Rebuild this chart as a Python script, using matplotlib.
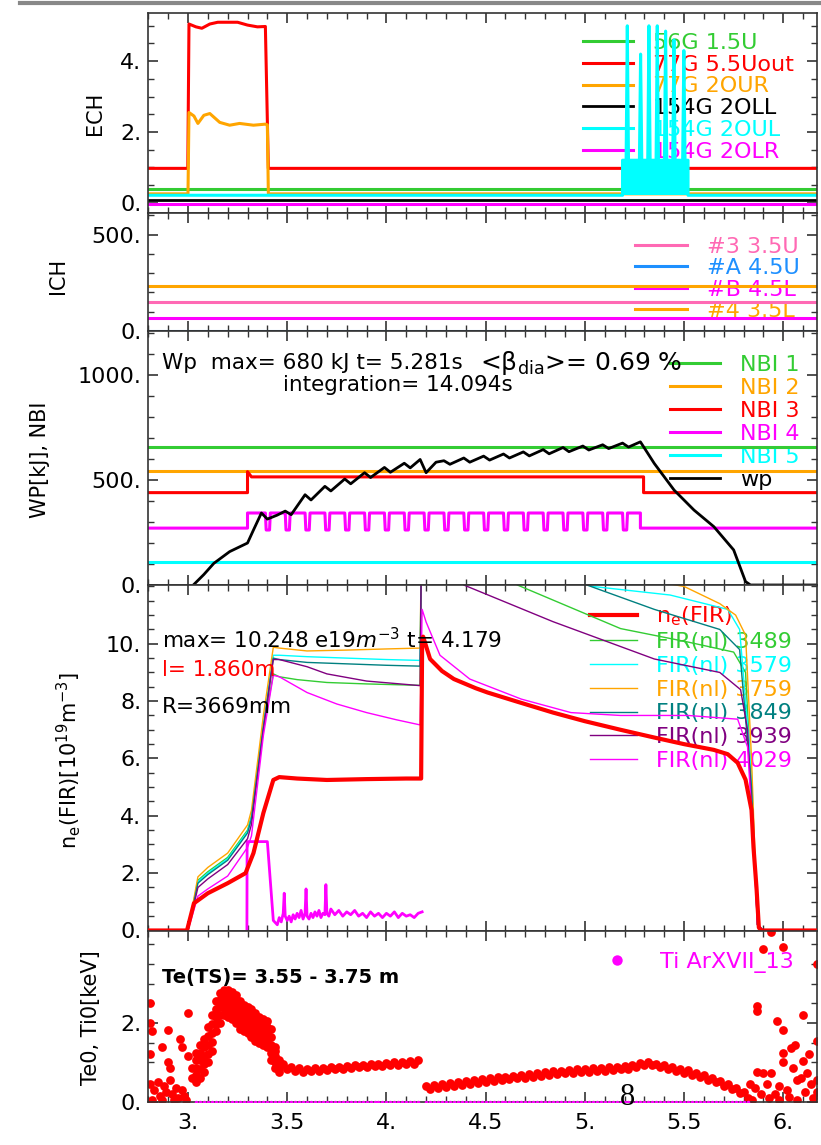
import numpy as np
import matplotlib
matplotlib.use("Agg")
import matplotlib.pyplot as plt
from matplotlib.ticker import MultipleLocator, FixedLocator, FuncFormatter
from matplotlib.lines import Line2D

plt.rcParams['font.family'] = ['DejaVu Sans']
plt.rcParams['mathtext.default'] = 'regular'

# ---------------- data ----------------
T_MIN, T_MAX = 2.8, 6.17

# ECH [MW]
ech_green_t = [2.8, 6.17]
ech_green_v = [0.40, 0.40]
ech_red_t = [2.8, 2.999, 3.005, 3.04, 3.07, 3.11, 3.15, 3.25, 3.30, 3.35, 3.39, 3.405, 6.17]
ech_red_v = [0.97, 0.97, 5.05, 4.97, 4.93, 5.05, 5.10, 5.10, 5.02, 4.97, 4.98, 0.97, 0.97]
ech_orange_t = [2.8, 3.0, 3.005, 3.03, 3.05, 3.08, 3.11, 3.16, 3.21, 3.26, 3.33, 3.39, 3.40, 3.405, 6.17]
ech_orange_v = [0.25, 0.25, 2.55, 2.45, 2.24, 2.47, 2.52, 2.27, 2.19, 2.24, 2.19, 2.22, 2.2, 0.25, 0.25]
ech_black_t = [2.8, 6.17]
ech_black_v = [0.07, 0.07]
ech_cyan_t = [2.8, 5.19, 5.19, 5.208, 5.214, 5.22, 5.275, 5.281, 5.287, 5.317, 5.323, 5.329,
              5.359, 5.365, 5.371, 5.401, 5.407, 5.413, 5.443, 5.449, 5.455, 5.493, 5.499, 5.505,
              5.52, 5.52, 6.17]
ech_cyan_v = [0.21, 0.21, 1.2, 1.2, 5.0, 1.2, 1.2, 4.2, 1.2, 1.2, 5.0, 1.2,
              1.2, 5.0, 1.2, 1.2, 4.85, 1.2, 1.2, 4.6, 1.2, 1.2, 4.3, 1.2,
              1.2, 0.21, 0.21]
ech_cyan_block_t = [5.19, 5.52]
ech_cyan_block_v = [1.2, 1.2]
ech_magenta_t = [2.8, 6.17]
ech_magenta_v = [-0.05, -0.05]
ech_labels = ["56G 1.5U", "77G 5.5Uout", "77G 2OUR", "154G 2OLL", "154G 2OUL", "154G 2OLR"]

# ICH [kW]
ich_t = [2.8, 6.17]
ich_pink_v = [149, 149]
ich_blue_v = [0, 0]
ich_magenta_v = [68, 68]
ich_orange_v = [231, 231]
ich_labels = ["#3 3.5U", "#A 4.5U", "#B 4.5L", "#4 3.5L"]

# NBI and Wp
nbi_t = [2.8, 6.17]
nbi1_v = [656, 656]
nbi2_v = [543, 543]
nbi3_t = [2.8, 3.30, 3.30, 3.32, 5.296, 5.296, 6.17]
nbi3_v = [440, 440, 540, 515, 515, 440, 440]
nbi4_base, nbi4_on, nbi4_notch_v = 271, 343, 262
nbi4_start, nbi4_stop = 3.30, 5.28
nbi4_notch_t = [3.39, 3.49, 3.59, 3.69, 3.79, 3.89, 3.99, 4.09, 4.19, 4.29,
                4.39, 4.49, 4.59, 4.69, 4.79, 4.89, 4.99, 5.09, 5.19]
nbi5_v = [110, 110]
wp_t = [3.027, 3.08, 3.13, 3.21, 3.30, 3.33, 3.37, 3.40, 3.45, 3.49,
        3.52, 3.59, 3.62, 3.69, 3.72, 3.79, 3.82, 3.89, 3.92, 3.99,
        4.02, 4.09, 4.12, 4.17, 4.20, 4.25, 4.29, 4.32, 4.39, 4.42,
        4.49, 4.52, 4.59, 4.62, 4.69, 4.72, 4.79, 4.82, 4.89, 4.92,
        4.99, 5.02, 5.09, 5.12, 5.19, 5.22, 5.28, 5.35, 5.45, 5.55,
        5.65, 5.75, 5.81, 5.835, 6.17]
wp_v = [0, 50, 103, 159, 200, 262, 343, 314, 333, 352,
        335, 430, 405, 470, 448, 505, 482, 535, 512, 560,
        537, 580, 558, 598, 535, 585, 592, 575, 605, 585,
        614, 595, 624, 605, 634, 615, 645, 625, 655, 635,
        662, 643, 668, 650, 676, 657, 682, 579, 452, 357,
        278, 167, 16, 0, 0]
nbi_labels = ["NBI 1", "NBI 2", "NBI 3", "NBI 4", "NBI 5", "wp"]

# line-averaged density [1e19 m^-3]
ne_t = [2.8, 2.995, 3.03, 3.1, 3.2, 3.29, 3.33, 3.38, 3.43, 3.46, 3.55, 3.7, 3.9, 4.1, 4.175,
        4.18, 4.185, 4.22, 4.28, 4.34, 4.45, 4.51, 4.65, 4.84, 5.0, 5.18, 5.35, 5.5, 5.65,
        5.72, 5.77, 5.81, 5.84, 5.85, 5.865, 5.877, 5.89, 6.17]
ne_v = [0.0, 0.0, 0.95, 1.3, 1.65, 2.0, 2.7, 4.1, 5.25, 5.35, 5.3, 5.25, 5.28, 5.3, 5.3,
        10.0, 10.25, 9.47, 9.05, 8.77, 8.45, 8.3, 8.0, 7.6, 7.3, 7.0, 6.73, 6.5, 6.3,
        6.15, 5.85, 5.26, 4.2, 2.9, 1.5, 0.1, 0.0, 0.0]
fir3489_t = [3.0, 3.05, 3.1, 3.2, 3.3, 3.32, 3.38, 3.43, 3.46, 3.55, 3.7, 3.9, 4.17, 4.18,
             4.4, 4.66, 5.18, 5.52, 5.75, 5.81, 5.84, 5.87, 5.9]
fir3489_v = [0, 1.75, 2.05, 2.55, 3.5, 4.0, 7.0, 8.95, 8.85, 8.75, 8.65, 8.6, 8.55, 16,
             13.5, 12.05, 10.53, 10.06, 9.71, 9.0, 5.0, 0.2, 0.0]
fir3579_t = [3.0, 3.05, 3.1, 3.2, 3.3, 3.32, 3.38, 3.43, 3.46, 3.6, 3.8, 4.0, 4.17, 4.18,
             4.6, 5.04, 5.43, 5.72, 5.78, 5.84, 5.87, 5.9]
fir3579_v = [0, 1.7, 2.0, 2.5, 3.45, 3.95, 7.2, 9.6, 9.6, 9.55, 9.5, 9.45, 9.42, 16,
             13.0, 12.0, 11.7, 11.2, 10.5, 5.5, 0.2, 0]
fir3759_t = [3.0, 3.05, 3.1, 3.2, 3.3, 3.32, 3.38, 3.43, 3.46, 3.6, 3.8, 4.0, 4.17, 4.18,
             4.6, 5.0, 5.5, 5.68, 5.76, 5.81, 5.84, 5.87, 5.9]
fir3759_v = [0, 1.87, 2.2, 2.7, 3.68, 4.2, 7.5, 9.88, 9.85, 9.75, 9.78, 9.82, 9.85, 16,
             13.5, 12.6, 12.0, 11.4, 11.0, 10.3, 6.0, 0.2, 0.0]
fir3849_t = [3.0, 3.05, 3.1, 3.2, 3.3, 3.32, 3.38, 3.43, 3.46, 3.6, 3.8, 4.0, 4.17, 4.18,
             4.6, 5.01, 5.35, 5.68, 5.78, 5.84, 5.87, 5.9]
fir3849_v = [0, 1.65, 1.95, 2.45, 3.4, 3.9, 7.1, 9.5, 9.45, 9.35, 9.3, 9.25, 9.22, 16,
             13.0, 12.05, 11.2, 10.5, 9.8, 5.0, 0.2, 0]
fir3939_t = [3.0, 3.05, 3.1, 3.2, 3.3, 3.32, 3.38, 3.43, 3.46, 3.6, 3.7, 3.9, 4.17, 4.18,
             4.39, 4.84, 5.35, 5.68, 5.785, 5.82, 5.85, 5.87, 5.9]
fir3939_v = [0, 1.5, 1.8, 2.3, 3.2, 3.7, 7.0, 9.45, 9.45, 9.2, 8.95, 8.7, 8.54, 16,
             12.05, 10.77, 9.47, 9.0, 8.4, 7.0, 3.0, 0.2, 0]
fir4029_t = [3.0, 3.05, 3.1, 3.2, 3.3, 3.32, 3.38, 3.43, 3.46, 3.6, 3.75, 3.9, 4.05, 4.17,
             4.18, 4.2, 4.27, 4.42, 4.68, 4.93, 5.18, 5.52, 5.77, 5.82, 5.85, 5.87, 5.9]
fir4029_v = [0, 1.2, 1.45, 1.9, 2.9, 3.3, 6.8, 8.9, 8.85, 8.3, 7.9, 7.6, 7.35, 7.17,
             11.2, 10.76, 9.6, 8.77, 8.07, 7.6, 7.5, 7.5, 7.37, 6.4, 3.0, 0.2, 0]
ha_t = [3.297, 3.298, 3.40, 3.43, 3.45, 3.46, 3.47, 3.48, 3.485, 3.49,
        3.50, 3.51, 3.52, 3.53, 3.54, 3.55, 3.56, 3.57, 3.58, 3.59,
        3.595, 3.60, 3.61, 3.62, 3.63, 3.64, 3.65, 3.66, 3.67, 3.68,
        3.69, 3.695, 3.70, 3.71, 3.72, 3.74, 3.76, 3.78, 3.80, 3.82,
        3.84, 3.86, 3.88, 3.90, 3.92, 3.94, 3.96, 3.98, 4.00, 4.02,
        4.04, 4.06, 4.08, 4.10, 4.12, 4.14, 4.16, 4.18]
ha_v = [0.0, 3.1, 3.1, 0.35, 0.2, 0.45, 0.3, 0.6, 1.3, 0.5,
        0.35, 0.5, 0.3, 0.55, 0.4, 0.6, 0.45, 0.7, 0.4, 0.6,
        1.45, 0.5, 0.4, 0.6, 0.45, 0.65, 0.5, 0.7, 0.45, 0.6,
        0.55, 1.6, 0.6, 0.5, 0.75, 0.55, 0.7, 0.5, 0.65, 0.55,
        0.7, 0.5, 0.6, 0.45, 0.65, 0.5, 0.6, 0.45, 0.6, 0.5,
        0.65, 0.45, 0.6, 0.5, 0.55, 0.45, 0.6, 0.65]
ne_labels = [r"n$_\mathregular{e}$(FIR)", "FIR(nl) 3489", "FIR(nl) 3579", "FIR(nl) 3759",
             "FIR(nl) 3849", "FIR(nl) 3939", "FIR(nl) 4029"]

# Te (Thomson) [keV]
te_hump_t = [3.04, 3.06, 3.08, 3.10, 3.12, 3.14, 3.16, 3.18, 3.20, 3.22, 3.24,
             3.26, 3.28, 3.30, 3.32, 3.34, 3.36, 3.38, 3.40, 3.42, 3.44, 3.46]
te_hump_rows = [
    [1.25, 1.45, 1.60, 1.90, 2.20, 2.55, 2.75, 2.85, 2.85, 2.80, 2.70,
     2.55, 2.45, 2.40, 2.35, 2.25, 2.15, 2.10, 2.05, 1.85, 1.40, 1.05],
    [1.05, 1.25, 1.38, 1.68, 1.98, 2.35, 2.58, 2.70, 2.68, 2.62, 2.52,
     2.38, 2.28, 2.22, 2.18, 2.08, 2.00, 1.95, 1.90, 1.65, 1.28, 0.98],
    [0.85, 1.05, 1.15, 1.45, 1.75, 2.15, 2.40, 2.55, 2.50, 2.45, 2.35,
     2.20, 2.10, 2.05, 2.00, 1.90, 1.85, 1.80, 1.75, 1.45, 1.15, 0.90],
    [0.68, 0.82, 0.95, 1.22, 1.52, 1.98, 2.20, 2.38, 2.32, 2.28, 2.18,
     2.02, 1.95, 1.90, 1.82, 1.72, 1.68, 1.62, 1.58, 1.25, 1.00, 0.82],
    [0.50, 0.60, 0.75, 1.00, 1.30, 1.80, 2.00, 2.20, 2.15, 2.10, 2.00,
     1.85, 1.80, 1.75, 1.65, 1.55, 1.50, 1.45, 1.40, 1.05, 0.85, 0.75],
]
te_flat_t = [3.48, 3.50, 3.52, 3.54, 3.56, 3.58, 3.60, 3.62, 3.64, 3.66, 3.68, 3.70,
             3.72, 3.74, 3.76, 3.78, 3.80, 3.82, 3.84, 3.86, 3.88, 3.90, 3.92, 3.94,
             3.96, 3.98, 4.00, 4.02, 4.04, 4.06, 4.08, 4.10, 4.12, 4.14, 4.16]
te_flat_v = [0.95, 0.82, 0.88, 0.78, 0.85, 0.76, 0.84, 0.78, 0.85, 0.79, 0.86, 0.80,
             0.88, 0.82, 0.89, 0.84, 0.91, 0.85, 0.92, 0.87, 0.94, 0.88, 0.95, 0.90,
             0.97, 0.91, 0.98, 0.93, 1.00, 0.94, 1.01, 0.96, 1.03, 0.97, 1.05]
te_late_t = [4.20, 4.22, 4.24, 4.26, 4.28, 4.30, 4.32, 4.34, 4.36, 4.38, 4.40, 4.42,
             4.44, 4.46, 4.48, 4.50, 4.52, 4.54, 4.56, 4.58, 4.60, 4.62, 4.64, 4.66,
             4.68, 4.70, 4.72, 4.74, 4.76, 4.78, 4.80, 4.82, 4.84, 4.86, 4.88, 4.90,
             4.92, 4.94, 4.96, 4.98, 5.00, 5.02, 5.04, 5.06, 5.08, 5.10, 5.12, 5.14,
             5.16, 5.18, 5.20, 5.22, 5.24, 5.26, 5.28, 5.30, 5.32, 5.34, 5.36, 5.38,
             5.40, 5.42, 5.44, 5.46, 5.48, 5.50, 5.52, 5.54, 5.56, 5.58, 5.60, 5.62,
             5.64, 5.66, 5.68, 5.70, 5.72, 5.74, 5.76, 5.78, 5.80, 5.82]
te_late_v = [0.40, 0.33, 0.42, 0.35, 0.45, 0.38, 0.47, 0.40, 0.49, 0.43, 0.52, 0.45,
             0.55, 0.48, 0.57, 0.51, 0.60, 0.53, 0.62, 0.55, 0.64, 0.57, 0.66, 0.59,
             0.68, 0.61, 0.70, 0.63, 0.73, 0.66, 0.75, 0.68, 0.77, 0.70, 0.79, 0.72,
             0.81, 0.73, 0.82, 0.75, 0.84, 0.76, 0.85, 0.78, 0.86, 0.79, 0.88, 0.80,
             0.89, 0.82, 0.91, 0.84, 0.94, 0.88, 0.98, 0.93, 1.02, 0.92, 0.97, 0.87,
             0.93, 0.83, 0.89, 0.78, 0.84, 0.74, 0.80, 0.69, 0.74, 0.63, 0.68, 0.56,
             0.61, 0.49, 0.53, 0.41, 0.45, 0.33, 0.36, 0.23, 0.25, 0.10]
te_scat_l_t = [2.81, 2.81, 2.82, 2.81, 2.87, 2.90, 2.90, 2.91, 2.96, 2.97, 3.00, 3.00, 3.02, 3.02,
               2.81, 2.83, 2.85, 2.86, 2.88, 2.89, 2.91, 2.92, 2.94, 2.95, 2.97, 2.98,
               2.82, 2.87, 2.93, 2.99]
te_scat_l_v = [2.50, 2.00, 1.80, 1.20, 1.40, 1.83, 1.00, 0.85, 1.60, 1.40, 2.26, 1.15, 0.85, 0.60,
               0.45, 0.30, 0.50, 0.15, 0.40, 0.25, 0.55, 0.20, 0.35, 0.10, 0.30, 0.15,
               0.05, 0.05, 0.05, 0.05]
te_scat_r_t = [5.936, 5.90, 6.00, 6.17, 5.87, 5.87, 6.10, 5.97, 6.00, 6.17, 6.04, 6.06, 6.13,
               6.00, 6.10, 6.00, 5.87, 5.90, 5.94, 6.05, 6.12, 6.17, 5.83, 5.92, 5.98, 6.07,
               6.14, 5.89, 5.96, 6.02, 6.11, 6.17, 5.84, 5.98, 6.07, 5.86, 5.93, 6.03, 6.09, 6.15]
te_scat_r_v = [4.30, 3.87, 3.92, 3.49, 2.42, 2.30, 2.21, 2.04, 1.83, 1.53, 1.37, 1.45, 1.20,
               1.25, 1.03, 1.00, 0.75, 0.72, 0.72, 0.85, 0.72, 0.55, 0.45, 0.45, 0.40, 0.55,
               0.45, 0.20, 0.20, 0.30, 0.25, 0.25, 0.05, 0.05, 0.05, 0.35, 0.10, 0.12, 0.60, 0.10]
# Ti from the X-ray crystal spectrometer sits at zero over the same time base
ti_t = te_hump_t + te_flat_t + te_late_t
ti_v = [0.0] * len(ti_t)

GREEN, RED, ORANGE, CYAN, MAGENTA = '#33cc33', '#ff0000', '#ffa500', '#00ffff', '#ff00ff'
PINK, BLUE, TEAL, PURPLE = '#ff69b4', '#1e90ff', '#008080', '#800080'

# ---------------- figure layout (pixel based) ----------------
W, H = 821, 1145
fig = plt.figure(figsize=(W / 100, H / 100), dpi=100)
LEFT, RIGHT = 148.3, 817.0


def make_axes(top, bottom):
    return fig.add_axes([LEFT / W, 1 - bottom / H, (RIGHT - LEFT) / W, (bottom - top) / H])


def idl_fmt(v, pos):
    if abs(v - round(v)) < 1e-9:
        return f"{int(round(v))}."
    return f"{v:g}"


def style(ax, ylim, majors, minor, last=False):
    ax.set_xlim(T_MIN, T_MAX)
    ax.set_ylim(*ylim)
    ax.xaxis.set_major_locator(MultipleLocator(0.5))
    ax.xaxis.set_minor_locator(MultipleLocator(0.1))
    ax.yaxis.set_major_locator(FixedLocator(majors))
    ax.yaxis.set_minor_locator(MultipleLocator(minor))
    ax.xaxis.set_major_formatter(FuncFormatter(idl_fmt))
    ax.yaxis.set_major_formatter(FuncFormatter(idl_fmt))
    ax.tick_params(which='both', direction='in', top=True, right=True, color='#333333')
    ax.tick_params(which='major', length=7, width=1.2, labelsize=16, pad=5)
    ax.tick_params(which='minor', length=4, width=1.0)
    ax.tick_params(axis='x', labelbottom=last, pad=8)
    for s in ax.spines.values():
        s.set_linewidth(1.2)
        s.set_color('#333333')


def legend(ax, handles, labels, x, y, hl, htp, ls=0.1, **kw):
    leg = ax.legend(handles, labels, loc='upper left', bbox_to_anchor=(x, y), frameon=False,
                    fontsize=16, handlelength=hl, handletextpad=htp, labelspacing=ls,
                    borderpad=0, borderaxespad=0, labelcolor='linecolor', **kw)
    leg.set_zorder(1)
    return leg


LW = 2.2
TXT = 15.5

# ---- ECH ----
ax = make_axes(12.7, 213.3)
h = []
h += ax.plot(ech_green_t, ech_green_v, color=GREEN, lw=LW)
h += ax.plot(ech_red_t, ech_red_v, color=RED, lw=LW)
h += ax.plot(ech_orange_t, ech_orange_v, color=ORANGE, lw=LW)
h += ax.plot(ech_black_t, ech_black_v, color='black', lw=2.0)
ax.fill_between(ech_cyan_block_t, ech_cyan_v[0], ech_cyan_block_v, color=CYAN, lw=0, zorder=2)
h += ax.plot(ech_cyan_t, ech_cyan_v, color=CYAN, lw=LW)
h += ax.plot(ech_magenta_t, ech_magenta_v, color=MAGENTA, lw=LW)
style(ax, (-0.3, 5.37), [0, 2, 4], 0.5)
ax.set_ylabel("ECH", fontsize=15)
ax.yaxis.set_label_coords(-0.065, 0.5)
legend(ax, h, ech_labels, 0.650, 0.90, 2.25, 0.9, ls=0.08)

# ---- ICH ----
ax = make_axes(213.3, 331.0)
h = []
h += ax.plot(ich_t, ich_pink_v, color=PINK, lw=LW)
h += ax.plot(ich_t, ich_blue_v, color=BLUE, lw=LW)
h += ax.plot(ich_t, ich_magenta_v, color=MAGENTA, lw=LW)
h += ax.plot(ich_t, ich_orange_v, color=ORANGE, lw=LW)
style(ax, (0, 610), [0, 500], 100)
ax.set_ylabel("ICH", fontsize=15)
ax.yaxis.set_label_coords(-0.120, 0.467)
legend(ax, h, ich_labels, 0.728, 0.80, 2.35, 0.9, ls=0.06)

# ---- Wp / NBI ----
ax = make_axes(331.0, 585.0)
nb4_t = [T_MIN, nbi4_start, nbi4_start]
nb4_v = [nbi4_base, nbi4_base, nbi4_on]
for tn in nbi4_notch_t:
    nb4_t += [tn, tn + 0.004, tn + 0.021, tn + 0.025]
    nb4_v += [nbi4_on, nbi4_notch_v, nbi4_notch_v, nbi4_on]
nb4_t += [nbi4_stop, nbi4_stop, T_MAX]
nb4_v += [nbi4_on, nbi4_base, nbi4_base]
h = []
h += ax.plot(nbi_t, nbi1_v, color=GREEN, lw=LW)
h += ax.plot(nbi_t, nbi2_v, color=ORANGE, lw=LW)
h += ax.plot(nbi3_t, nbi3_v, color=RED, lw=LW)
h += ax.plot(nb4_t, nb4_v, color=MAGENTA, lw=LW)
h += ax.plot(nbi_t, nbi5_v, color=CYAN, lw=LW)
h += ax.plot(wp_t, wp_v, color='black', lw=2.0)
style(ax, (0, 1210), [0, 500, 1000], 100)
ax.set_ylabel("WP[kJ], NBI", fontsize=15)
ax.yaxis.set_label_coords(-0.147, 0.492)
legend(ax, h, nbi_labels, 0.780, 0.905, 2.25, 0.9, ls=0.13)
ax.text(0.0205, 0.874, "Wp  max= 680 kJ t= 5.281s", transform=ax.transAxes,
        fontsize=TXT, ha='left', va='center')
ax.text(0.496, 0.874, r"<$\beta_{dia}$>= 0.69 %", transform=ax.transAxes,
        fontsize=18, ha='left', va='center')
ax.text(0.201, 0.787, "integration= 14.094s", transform=ax.transAxes,
        fontsize=TXT, ha='left', va='center')

# ---- density ----
ax = make_axes(585.0, 930.5)
h = []
ax.plot(ha_t, ha_v, color=MAGENTA, lw=2.0)
h += ax.plot(ne_t, ne_v, color=RED, lw=3.0, zorder=3)
h += ax.plot(fir3489_t, fir3489_v, color=GREEN, lw=1.0)
h += ax.plot(fir3579_t, fir3579_v, color=CYAN, lw=1.0)
h += ax.plot(fir3759_t, fir3759_v, color=ORANGE, lw=1.0)
h += ax.plot(fir3849_t, fir3849_v, color=TEAL, lw=1.0)
h += ax.plot(fir3939_t, fir3939_v, color=PURPLE, lw=1.0)
h += ax.plot(fir4029_t, fir4029_v, color=MAGENTA, lw=1.0)
style(ax, (0, 12.05), [0, 2, 4, 6, 8, 10], 0.5)
ax.set_ylabel(r"n$_\mathregular{e}$(FIR)[10$^{19}$m$^{-3}$]", fontsize=15)
ax.yaxis.set_label_coords(-0.098, 0.493)
legend(ax, h, ne_labels, 0.660, 0.943, 2.15, 0.85, ls=0.17)
ax.text(0.0205, 0.841, r"max= 10.248 e19$\mathit{m}^{-3}$ t= 4.179", transform=ax.transAxes,
        fontsize=TXT, ha='left', va='center')
ax.text(0.0205, 0.754, "l= 1.860m", transform=ax.transAxes, color=RED,
        fontsize=TXT, ha='left', va='center')
ax.text(0.0205, 0.647, "R=3669mm", transform=ax.transAxes,
        fontsize=TXT, ha='left', va='center')

# ---- Te / Ti ----
ax = make_axes(930.5, 1101.7)
MS = 6.3
for row in te_hump_rows:
    ax.plot(te_hump_t, row, 'o', color=RED, ms=MS, mew=0)
ax.plot(te_flat_t, te_flat_v, 'o', color=RED, ms=MS, mew=0)
ax.plot(te_late_t, te_late_v, 'o', color=RED, ms=MS, mew=0)
ax.plot(te_scat_l_t, te_scat_l_v, 'o', color=RED, ms=MS, mew=0)
ax.plot(te_scat_r_t, te_scat_r_v, 'o', color=RED, ms=MS, mew=0)
hti = ax.plot(ti_t, ti_v, 'o', color=MAGENTA, ms=2.5, mew=0, zorder=3)
style(ax, (0, 4.35), [0, 2], 0.5, last=True)
ax.set_ylabel("Te0, Ti0[keV]", fontsize=15)
ax.yaxis.set_label_coords(-0.071, 0.489)
legend(ax, hti, ["Ti ArXVII_13"], 0.669, 0.875, 1.9, 1.0, markerscale=3.0, numpoints=1)
ax.text(0.0205, 0.728, "Te(TS)= 3.55 - 3.75 m", transform=ax.transAxes,
        fontsize=14, fontweight='bold', ha='left', va='center')

# page decorations
fig.add_artist(Line2D([20 / W, 1.0], [1 - 3 / H, 1 - 3 / H], transform=fig.transFigure,
                      color='#888888', lw=3))
fig.text(627.5 / W, 1 - 1097.5 / H, "8", ha='center', va='center',
         family='Liberation Serif', fontsize=22)

fig.savefig("out.png", dpi=100)
